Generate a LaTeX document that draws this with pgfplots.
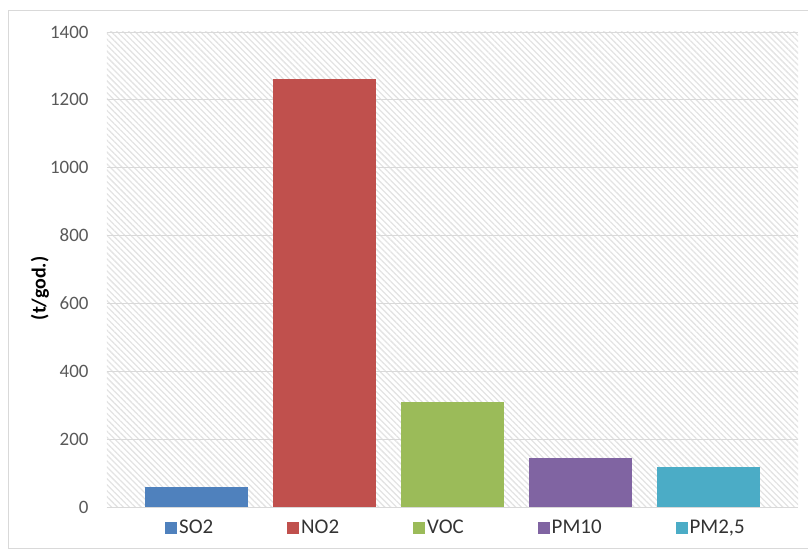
\documentclass[border=0pt]{standalone}
\usepackage{pgfplots}
\pgfplotsset{compat=1.18}
\usetikzlibrary{patterns.meta}
\usepackage{fontspec}
\setmainfont{Carlito}
\definecolor{tickgray}{HTML}{595959}
\definecolor{gridgray}{HTML}{D9D9D9}
\definecolor{framegray}{HTML}{D9D9D9}
\definecolor{cso}{HTML}{4F81BD}
\definecolor{cno}{HTML}{C0504D}
\definecolor{cvoc}{HTML}{9BBB59}
\definecolor{cpmten}{HTML}{8064A2}
\definecolor{cpmtwo}{HTML}{4BACC6}
\begin{document}
\begin{tikzpicture}
\useasboundingbox (-107bp,-43bp) rectangle (701bp,507bp);
\draw[framegray] (-99bp,-41bp) rectangle (720bp,497bp);
\begin{axis}[
    at={(0,0)}, anchor=south west,
    scale only axis,
    width=691bp, height=475bp,
    ybar,
    bar width=103bp,
    every axis plot/.append style={bar shift=0pt, draw=none},
    xmin=-0.699, xmax=4.699,
    ymin=0, ymax=1400,
    xtick=\empty,
    ytick={0,200,...,1400},
    major tick length=0pt,
    ymajorgrids,
    grid style={gridgray, line width=0.8pt},
    axis line style={draw=none},
    axis background/.style={pattern={Lines[angle=-45, distance=4.2bp, line width=1.3bp]}, pattern color=black!11},
    /pgf/number format/1000 sep={},
    /pgf/number format/assume math mode=true,
    yticklabel style={font=\fontsize{19}{21}\selectfont, text=tickgray, xshift=-15bp},
    ylabel={\textbf{(t/god.)}},
    every axis y label/.style={at={(axis description cs:-0.097,0.46)}, rotate=90, anchor=center,
        font=\fontsize{20}{22}\selectfont, text=black},
    legend style={at={(axis description cs:0.505,-0.044)}, anchor=center,
        draw=none, fill=none, legend columns=5,
        font=\fontsize{21}{23}\selectfont, text=black!80,
        /tikz/every even column/.append style={column sep=72bp}},
    legend image code/.code={\fill[#1] (0bp,-6bp) rectangle (12bp,6bp);},
]
\addplot[fill=cso] coordinates {(0,60)};
\addplot[fill=cno] coordinates {(1,1260)};
\addplot[fill=cvoc] coordinates {(2,310)};
\addplot[fill=cpmten] coordinates {(3,145)};
\addplot[fill=cpmtwo] coordinates {(4,118)};
\legend{SO2,NO2,VOC,PM10,{PM2,5}}
\end{axis}
\end{tikzpicture}
\end{document}
